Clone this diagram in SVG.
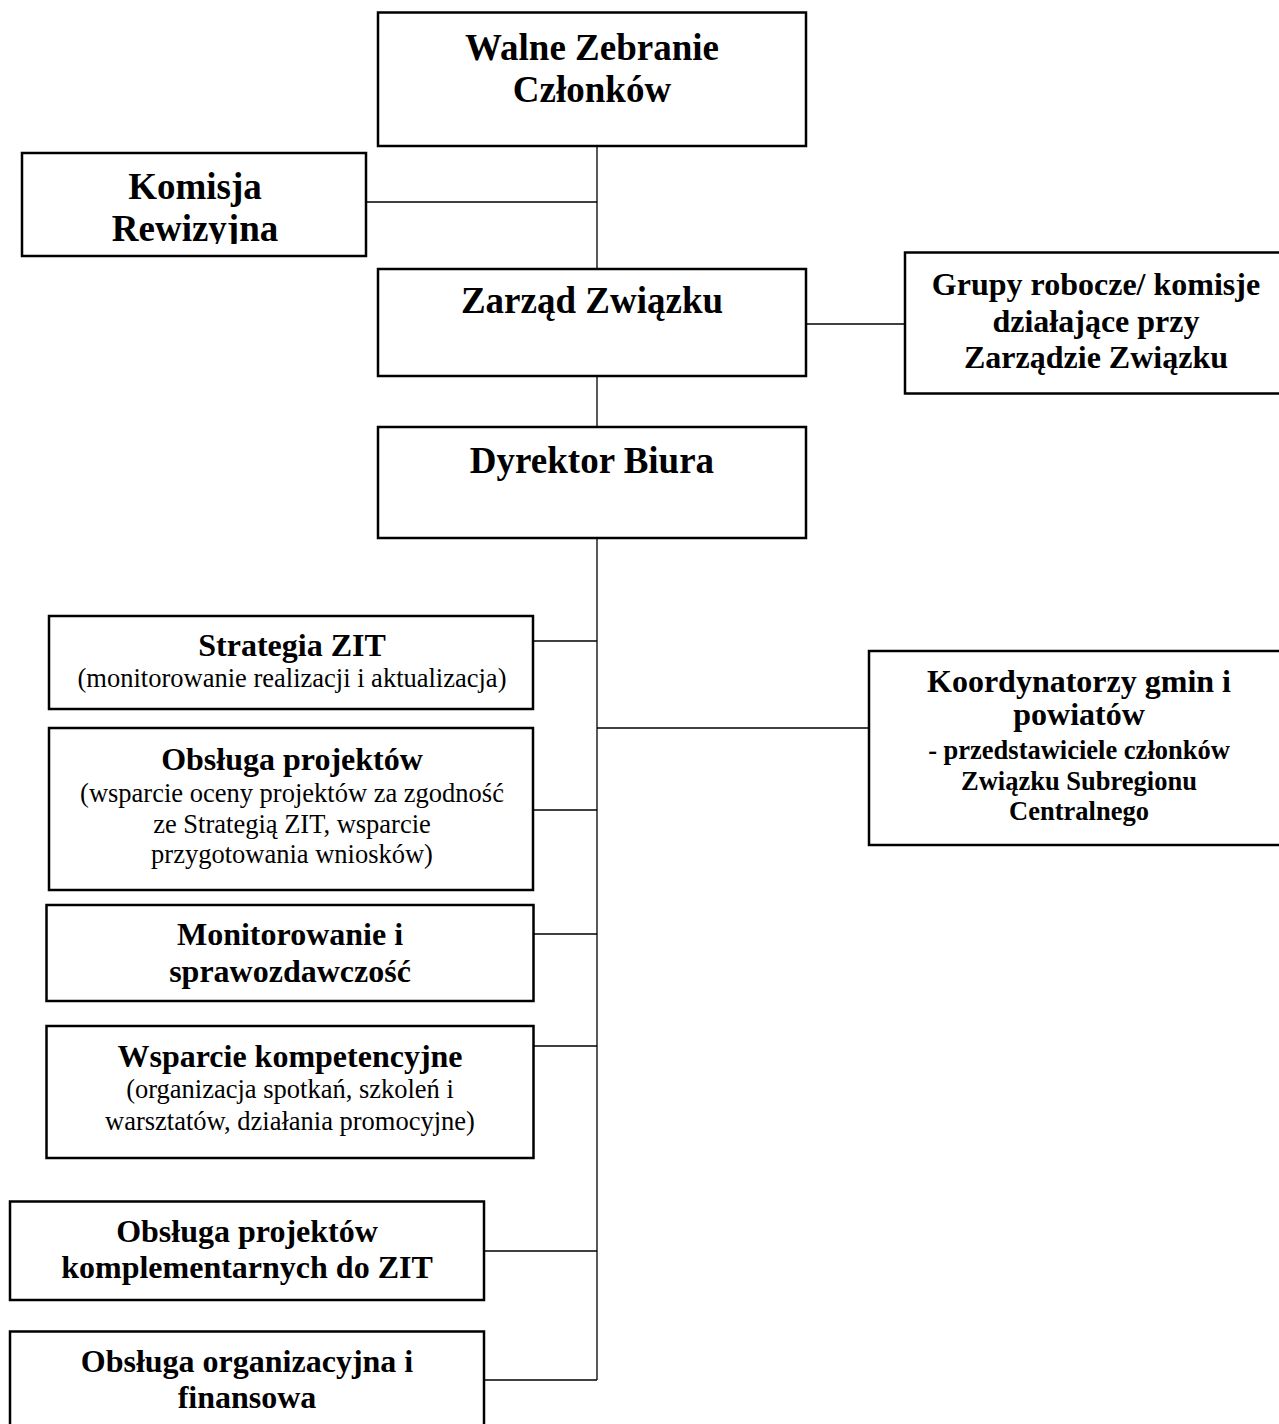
<svg xmlns="http://www.w3.org/2000/svg" width="1279" height="1424" viewBox="0 0 1279 1424">
<defs>
<style>
.box{fill:#fff;stroke:#000;stroke-width:2.5}
.con{fill:none;stroke:#000;stroke-width:1.3}
text{font-family:"Liberation Serif","Times New Roman",serif;fill:#000;text-anchor:middle}
.t1{font-size:37px;font-weight:bold}
.t2{font-size:32px;font-weight:bold}
.t3{font-size:32px;font-weight:bold}
.t4{font-size:26.5px;font-weight:bold}
.s{font-size:26.5px}
</style>
<clipPath id="clipKom"><rect x="0" y="150" width="400" height="94"/></clipPath>
</defs>
<rect width="1279" height="1424" fill="#fff"/>
<g id="connectors">
<line class="con" x1="597" y1="146" x2="597" y2="269"/>
<line class="con" x1="366" y1="202" x2="597" y2="202"/>
<line class="con" x1="806" y1="324" x2="905" y2="324"/>
<line class="con" x1="597" y1="376" x2="597" y2="427"/>
<line class="con" x1="597" y1="538" x2="597" y2="1380"/>
<line class="con" x1="533" y1="641" x2="597" y2="641"/>
<line class="con" x1="597" y1="728" x2="869" y2="728"/>
<line class="con" x1="533" y1="810" x2="597" y2="810"/>
<line class="con" x1="533" y1="934" x2="597" y2="934"/>
<line class="con" x1="533" y1="1046" x2="597" y2="1046"/>
<line class="con" x1="484" y1="1251" x2="597" y2="1251"/>
<line class="con" x1="484" y1="1380" x2="597" y2="1380"/>
</g>
<g id="walne">
<rect class="box" x="378" y="12.5" width="428" height="133.5"/>
<text class="t1" x="592" y="60">Walne Zebranie</text>
<text class="t1" x="592" y="102">Członków</text>
</g>
<g id="komisja">
<rect class="box" x="22" y="153" width="344" height="103"/>
<text class="t1" x="195" y="199">Komisja</text>
<text class="t1" x="195" y="241" clip-path="url(#clipKom)">Rewizyjna</text>
</g>
<g id="zarzad">
<rect class="box" x="378" y="269" width="428" height="107"/>
<text class="t1" x="592" y="313">Zarząd Związku</text>
</g>
<g id="grupy">
<rect class="box" x="905" y="252.5" width="400" height="141"/>
<text class="t3" x="1096" y="295">Grupy robocze/ komisje</text>
<text class="t3" x="1096" y="332">działające przy</text>
<text class="t3" x="1096" y="368">Zarządzie Związku</text>
</g>
<g id="dyrektor">
<rect class="box" x="378" y="427" width="428" height="111"/>
<text class="t1" x="592" y="473">Dyrektor Biura</text>
</g>
<g id="strategia">
<rect class="box" x="49" y="616" width="484" height="93"/>
<text class="t2" x="292" y="656">Strategia ZIT</text>
<text class="s" x="292" y="687">(monitorowanie realizacji i aktualizacja)</text>
</g>
<g id="obsluga-projektow">
<rect class="box" x="49" y="728" width="484" height="162"/>
<text class="t2" x="292" y="770">Obsługa projektów</text>
<text class="s" x="292" y="802">(wsparcie oceny projektów za zgodność</text>
<text class="s" x="292" y="833">ze Strategią ZIT, wsparcie</text>
<text class="s" x="292" y="863">przygotowania wniosków)</text>
</g>
<g id="koordynatorzy">
<rect class="box" x="869" y="651" width="440" height="194"/>
<text class="t3" x="1079" y="692">Koordynatorzy gmin i</text>
<text class="t3" x="1079" y="725">powiatów</text>
<text class="t4" x="1079" y="759">- przedstawiciele członków</text>
<text class="t4" x="1079" y="790">Związku Subregionu</text>
<text class="t4" x="1079" y="820">Centralnego</text>
</g>
<g id="monitorowanie">
<rect class="box" x="46.5" y="905" width="487" height="96"/>
<text class="t2" x="290" y="945">Monitorowanie i</text>
<text class="t2" x="290" y="982">sprawozdawczość</text>
</g>
<g id="wsparcie">
<rect class="box" x="46.5" y="1026" width="487" height="132"/>
<text class="t2" x="290" y="1067">Wsparcie kompetencyjne</text>
<text class="s" x="290" y="1098">(organizacja spotkań, szkoleń i</text>
<text class="s" x="290" y="1130">warsztatów, działania promocyjne)</text>
</g>
<g id="komplementarne">
<rect class="box" x="10" y="1201.5" width="474" height="98.5"/>
<text class="t2" x="247" y="1242">Obsługa projektów</text>
<text class="t2" x="247" y="1278">komplementarnych do ZIT</text>
</g>
<g id="organizacyjna">
<rect class="box" x="10" y="1331.5" width="474" height="120"/>
<text class="t2" x="247" y="1372">Obsługa organizacyjna i</text>
<text class="t2" x="247" y="1408">finansowa</text>
</g>
</svg>
